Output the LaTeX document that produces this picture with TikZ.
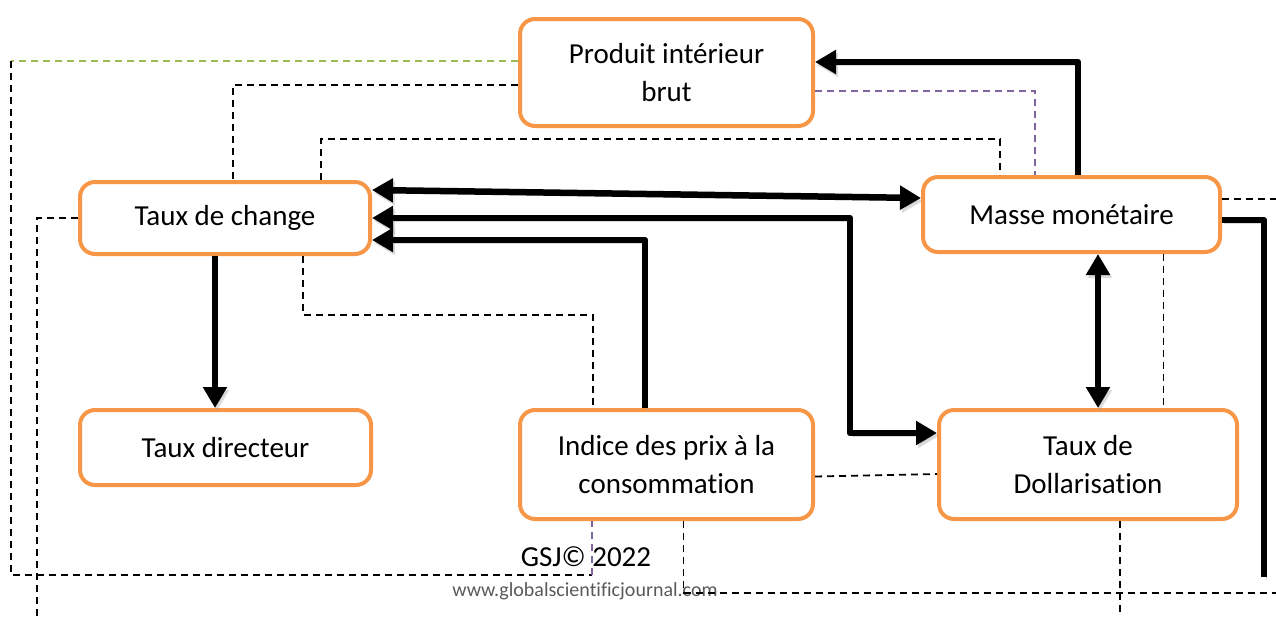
\documentclass[tikz,border=0pt]{standalone}
\usepackage{fontspec}
\setmainfont{Carlito}[Ligatures=NoCommon]
\usetikzlibrary{arrows.meta}
\definecolor{boxorange}{HTML}{F79646}
\definecolor{linkgreen}{HTML}{9BBB59}
\definecolor{linkpurple}{HTML}{8064A2}
\begin{document}
\begin{tikzpicture}[x=1pt,y=-1pt,
  >={Triangle[length=21pt,width=23pt]},
  box/.style={draw=boxorange, line width=4pt, rounded corners=15pt, fill=white,
    align=center, inner sep=0pt, font=\fontsize{29}{38}\selectfont},
  link/.style={draw=black, line width=1.8pt, dash pattern=on 7pt off 5pt},
  flow/.style={line width=6.5pt, line join=round,
    preaction={draw=black!40, opacity=.35, transform canvas={shift={(2pt,-3pt)}}}},
]
\useasboundingbox (0,0) rectangle (1276,616);

% variable boxes
\node[box, minimum width=293pt, minimum height=107pt] (pib) at (666.5,72.5) {Produit intérieur\\brut};
\node[box, minimum width=290pt, minimum height=72pt] (tc) at (225,218) {Taux de change};
\node[box, minimum width=297pt, minimum height=75pt] (mm) at (1071.5,214.5) {Masse monétaire};
\node[box, minimum width=291pt, minimum height=75pt] (td) at (225.5,447.5) {Taux directeur};
\node[box, minimum width=293pt, minimum height=109pt] (ipc) at (666.5,464.5) {Indice des prix à la\\consommation};
\node[box, minimum width=298pt, minimum height=109pt] (dol) at (1088,464.5) {Taux de\\Dollarisation};

% footer
\node[font=\fontsize{29}{34}\selectfont] (gsj) at (586,557) {GSJ© 2022};
\node[font=\fontsize{20}{24}\selectfont, text=black!65] (www) at (585,591) {www.globalscientificjournal.com};

% dashed links
\coordinate (outerTL) at (11,61);
\coordinate (outerBL) at (11,575);
\draw[link, draw=linkgreen] ([yshift=11.5pt]pib.west) -- (outerTL);
\draw[link] (outerTL) -- (outerBL) -- ++(581,0) coordinate (outerBR);
\draw[link, draw=linkpurple] (outerBR) -- (outerBR |- ipc.south);

\draw[link] ([yshift=-12.5pt]pib.west) -| ([xshift=8pt]tc.north);
\draw[link] ([xshift=96pt]tc.north) -- ++(0,-41) -| ([xshift=-71.5pt]mm.north);
\draw[link, draw=linkpurple] ([yshift=-18.5pt]pib.east) -| ([xshift=-36.5pt]mm.north);

\coordinate (leftEnd) at (37,616);
\draw[link] (tc.west) -| (leftEnd);

\draw[link] ([xshift=78pt]tc.south) -- ++(0,59) -| ([xshift=-73.5pt]ipc.north);
\draw[link] ([yshift=-12pt]ipc.east) -- ([yshift=-9.5pt]dol.west);

\coordinate (bottomRight) at (1276,593);
\draw[link] ([xshift=17pt]ipc.south) |- (bottomRight);
\coordinate (dolEnd) at (1120,616);
\draw[link] ([xshift=32pt]dol.south) -- (dolEnd);

\coordinate (mmDash) at ([xshift=92pt]mm.south);
\draw[link] (mmDash) -- (mmDash |- dol.north);
\coordinate (rightEnd) at (1276,199);
\draw[link] ([yshift=15.5pt]mm.east) -- (rightEnd);

% thick causal arrows
\draw[flow, ->] ([xshift=6.5pt]mm.north) |- ([yshift=10.5pt]pib.east);
\draw[flow, <->] ([yshift=28pt]tc.east) -- ([yshift=16.5pt]mm.west);
\draw[flow, <->] (tc.east) -- ++(478,0) |- ([yshift=31.5pt]dol.west);
\draw[flow, ->] ([xshift=-21.5pt]ipc.north) |- ([yshift=-22pt]tc.east);

\coordinate (tcDown) at ([xshift=-10pt]tc.south);
\draw[flow, ->] (tcDown) -- (tcDown |- td.north);

\coordinate (mmDown) at ([xshift=26.5pt]mm.south);
\draw[flow, <->] (mmDown) -- (mmDown |- dol.north);

\coordinate (rightFlowEnd) at (1264,577);
\draw[flow] ([yshift=-5.5pt]mm.east) -| (rightFlowEnd);
\end{tikzpicture}
\end{document}
